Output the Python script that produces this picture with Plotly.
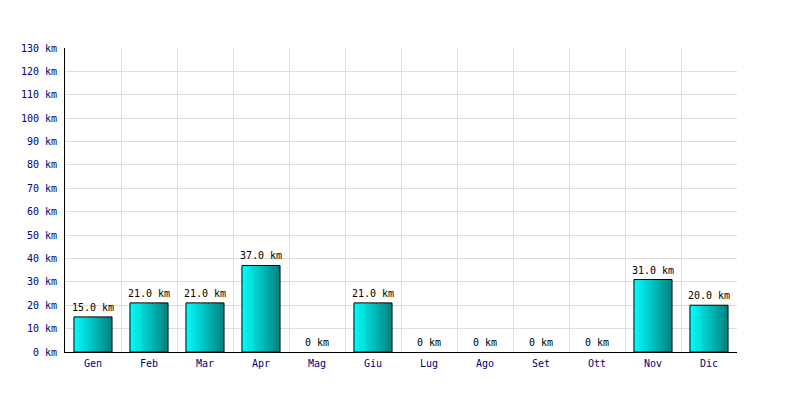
import plotly.graph_objects as go

months = ["Gen", "Feb", "Mar", "Apr", "Mag", "Giu", "Lug", "Ago", "Set", "Ott", "Nov", "Dic"]
km = [15.0, 21.0, 21.0, 37.0, 0, 21.0, 0, 0, 0, 0, 31.0, 20.0]
y_ticks = list(range(0, 131, 10))
y_labels = [f"{v} km" for v in y_ticks]

bar_half = 0.34
fig = go.Figure()
for i, v in enumerate(km):
    if v <= 0:
        continue
    x0, x1 = i - bar_half, i + bar_half
    fig.add_trace(go.Scatter(
        x=[x0, x1, x1, x0, x0], y=[0, 0, v, v, 0],
        mode="lines", fill="toself",
        fillgradient=dict(type="horizontal",
                          colorscale=[[0, "#00ffff"], [1, "#008080"]]),
        line=dict(color="black", width=1),
        hoverinfo="skip", showlegend=False,
    ))

labels = [f"{v:.1f} km" if v > 0 else "0 km" for v in km]
for i, (v, t) in enumerate(zip(km, labels)):
    fig.add_annotation(
        x=i, y=v, text=t, showarrow=False,
        xanchor="center", yanchor="bottom", yshift=2,
        font=dict(family="DejaVu Sans Mono", size=10, color="black"),
    )

fig.update_layout(
    width=800, height=400,
    margin=dict(l=57, r=71, t=40, b=56),
    paper_bgcolor="white", plot_bgcolor="white",
    font=dict(family="DejaVu Sans Mono", size=10, color="#000080"),
    xaxis=dict(
        range=[-0.5, 11.5], tickmode="array",
        tickvals=list(range(len(months))), ticktext=months,
        showgrid=False, zeroline=False,
        showline=True, linecolor="black", linewidth=1,
        ticks="", ticklen=0, ticklabelstandoff=2,
        minor=dict(tickmode="linear", tick0=-0.5, dtick=1, showgrid=True,
                   gridcolor="#dddddd", gridwidth=1, ticks=""),
        fixedrange=True,
    ),
    yaxis=dict(
        range=[0, 130], tickmode="array",
        tickvals=y_ticks, ticktext=y_labels,
        showgrid=True, gridcolor="#dddddd", gridwidth=1,
        zeroline=False, showline=True, linecolor="black", linewidth=1,
        ticks="", ticklen=0, ticklabelstandoff=5,
    ),
)

fig.write_html("out.html")
